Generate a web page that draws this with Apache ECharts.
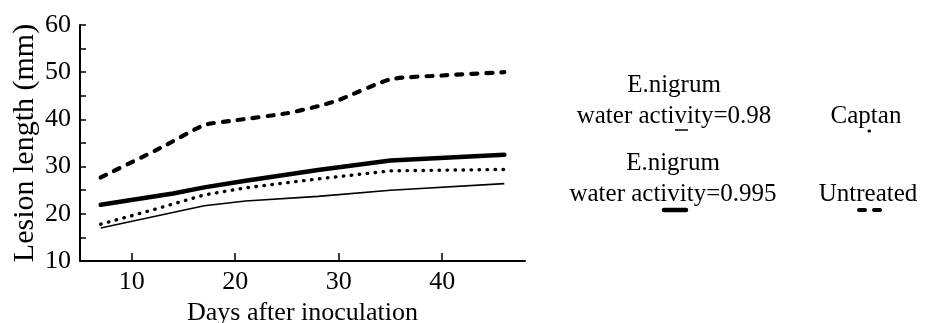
<!DOCTYPE html>
<html>
<head>
<meta charset="utf-8">
<script src="https://cdn.jsdelivr.net/npm/echarts@6/dist/echarts.min.js"></script>
<style>html,body{margin:0;padding:0;background:#fff}#c{width:926px;height:323px}</style>
</head>
<body>
<div id="c"></div>
<script>
// ---- data ----
var xTickValues = [10, 20, 30, 40];
var yTickStep = 5;
var xTitle = 'Days after inoculation';
var yTitle = 'Lesion length (mm)';
var legendLabels = ['E.nigrum\nwater activity=0.98', 'Captan', 'E.nigrum\nwater activity=0.995', 'Untreated'];

var aw098Days = [7, 17, 21, 28, 35, 46];
var aw098Vals = [17.0, 21.7, 22.7, 23.7, 25.0, 26.4];

var captanDays = [7, 12, 17, 21, 28, 35, 46];
var captanVals = [17.8, 20.8, 24.0, 25.5, 27.4, 29.1, 29.4];

var aw0995Days = [7, 14, 17, 21, 28, 35, 46];
var aw0995Vals = [21.9, 24.3, 25.6, 27.0, 29.3, 31.3, 32.5];

var untreatedDays = [7, 13, 17, 20, 25, 28, 30, 35, 40, 46];
var untreatedVals = [27.7, 34.2, 38.8, 39.8, 41.3, 42.8, 44.1, 48.5, 49.3, 50.0];

function pairs(d, v) { return d.map(function (x, i) { return [x, v[i]]; }); }

var FONT = '"Liberation Serif", "DejaVu Serif", serif';
var chart = echarts.init(document.getElementById('c'), null, { renderer: 'canvas' });

var lineBase = { type: 'line', showSymbol: false, symbol: 'none', animation: false, z: 3 };

chart.setOption({
  animation: false,
  backgroundColor: '#fff',
  grid: { left: 80, top: 25, right: 401, bottom: 62, containLabel: false, outerBoundsMode: 'none' },
  xAxis: {
    type: 'value', min: 5, max: 48,
    name: xTitle, nameLocation: 'middle', nameGap: 39,
    nameTextStyle: { fontFamily: FONT, fontSize: 26, color: '#000' },
    axisLine: { show: true, onZero: false, lineStyle: { color: '#000', width: 2 } },
    axisTick: { show: true, inside: true, length: 8, customValues: xTickValues, lineStyle: { color: '#000', width: 1.5 } },
    axisLabel: { customValues: xTickValues, fontFamily: FONT, fontSize: 26, color: '#000', margin: 8 },
    splitLine: { show: false }
  },
  yAxis: {
    type: 'value', min: 10, max: 60, interval: yTickStep,
    name: yTitle, nameLocation: 'middle', nameGap: 40, nameRotate: 90,
    nameTextStyle: { fontFamily: FONT, fontSize: 30, color: '#000' },
    axisLine: { show: true, onZero: false, lineStyle: { color: '#000', width: 2 } },
    axisTick: { show: true, inside: true, length: 6, lineStyle: { color: '#000', width: 1.5 } },
    axisLabel: {
      fontFamily: FONT, fontSize: 26, color: '#000', margin: 9,
      formatter: function (v) { return v % 10 === 0 ? String(v) : ''; }
    },
    splitLine: { show: false }
  },
  series: [
    Object.assign({}, lineBase, { name: 'E.nigrum water activity=0.98', data: pairs(aw098Days, aw098Vals),
      lineStyle: { color: '#000', width: 1.6 } }),
    Object.assign({}, lineBase, { name: 'Captan', data: pairs(captanDays, captanVals),
      lineStyle: { color: '#000', width: 3.4, type: [0.5, 7.5], cap: 'round' } }),
    Object.assign({}, lineBase, { name: 'E.nigrum water activity=0.995', data: pairs(aw0995Days, aw0995Vals),
      lineStyle: { color: '#000', width: 4.5, cap: 'round' } }),
    Object.assign({}, lineBase, { name: 'Untreated', data: pairs(untreatedDays, untreatedVals), smooth: 0.2,
      lineStyle: { color: '#000', width: 4.2, type: [6, 9], cap: 'round' } })
  ],
  graphic: [
    { type: 'text', style: { text: legendLabels[0], x: 674, y: 101, align: 'center', verticalAlign: 'middle',
      fontFamily: FONT, fontSize: 25, lineHeight: 31, fill: '#000' } },
    { type: 'text', style: { text: legendLabels[1], x: 866, y: 116, align: 'center', verticalAlign: 'middle',
      fontFamily: FONT, fontSize: 25, fill: '#000' } },
    { type: 'text', style: { text: legendLabels[2], x: 673, y: 179, align: 'center', verticalAlign: 'middle',
      fontFamily: FONT, fontSize: 25, lineHeight: 31, fill: '#000' } },
    { type: 'text', style: { text: legendLabels[3], x: 868, y: 194, align: 'center', verticalAlign: 'middle',
      fontFamily: FONT, fontSize: 25, fill: '#000' } },
    { type: 'line', shape: { x1: 675, y1: 130, x2: 688, y2: 130 }, style: { stroke: '#000', lineWidth: 1.5 } },
    { type: 'line', shape: { x1: 869, y1: 131, x2: 877, y2: 131 }, style: { stroke: '#000', lineWidth: 3, lineDash: [0.5, 7.5], lineCap: 'round' } },
    { type: 'line', shape: { x1: 664, y1: 210, x2: 686, y2: 210 }, style: { stroke: '#000', lineWidth: 4.5, lineCap: 'round' } },
    { type: 'line', shape: { x1: 859, y1: 210, x2: 882, y2: 210 }, style: { stroke: '#000', lineWidth: 4, lineDash: [6, 9], lineCap: 'round' } }
  ]
});
</script>
</body>
</html>
